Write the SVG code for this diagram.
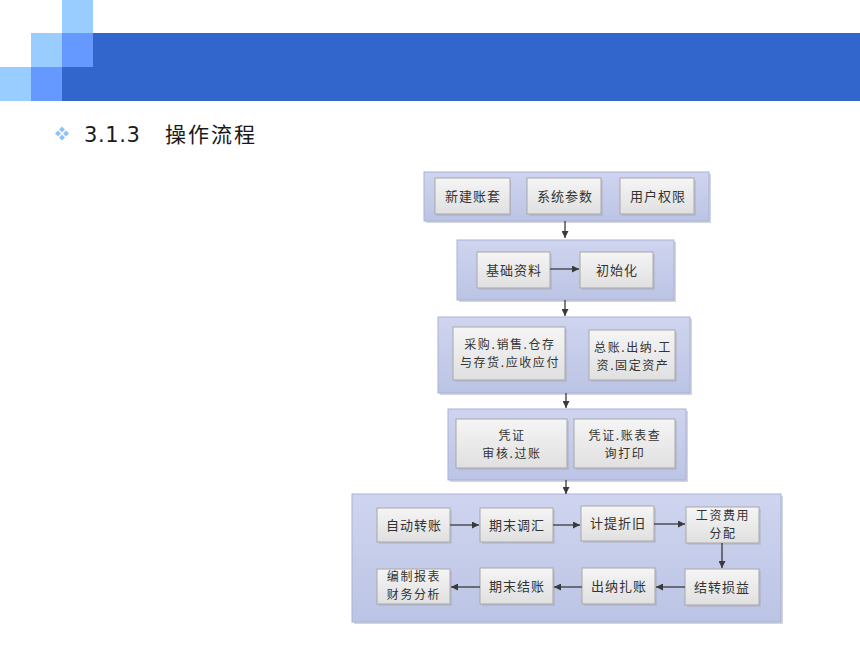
<svg xmlns="http://www.w3.org/2000/svg" width="860" height="645" viewBox="0 0 860 645">
<defs>
<linearGradient id="gOuter" x1="0" y1="0" x2="0" y2="1">
<stop offset="0" stop-color="#cfd5ef"/>
<stop offset="1" stop-color="#bcc4e5"/>
</linearGradient>
<linearGradient id="gInner" x1="0" y1="0" x2="0" y2="1">
<stop offset="0" stop-color="#f5f5f5"/>
<stop offset="1" stop-color="#e0e0e0"/>
</linearGradient>
<marker id="arr" viewBox="0 0 10 10" refX="10" refY="5" markerWidth="8" markerHeight="7" markerUnits="userSpaceOnUse" orient="auto">
<path d="M0,0 L10,5 L0,10 z" fill="#3a3a3a"/>
</marker>
<style>
.outer{fill:url(#gOuter);stroke:#a9b1d8;stroke-width:1}
.oshadow{fill:#9fa3b5;opacity:0.45}
.inner{fill:url(#gInner);stroke:#a8a8a8;stroke-width:1}
.ishadow{fill:#9a9aa8;opacity:0.3}
.t{font-family:"Noto Sans CJK SC","Noto Sans",sans-serif;font-size:13px;fill:#333;letter-spacing:1px;text-anchor:middle}
.t2{font-family:"Noto Sans CJK SC","Noto Sans",sans-serif;font-size:12px;fill:#333;letter-spacing:1.6px;text-anchor:middle}
.conn line{stroke:#3a3a3a;stroke-width:1.3;marker-end:url(#arr)}
</style>
</defs>
<rect width="860" height="645" fill="#ffffff"/>
<g id="header">
<rect x="62" y="0" width="31" height="33" fill="#99ccff"/>
<rect x="31" y="33" width="31" height="34" fill="#99ccff"/>
<rect x="62" y="33" width="31" height="34" fill="#6699ff"/>
<rect x="93" y="33" width="767" height="34" fill="#3366cc"/>
<rect x="0" y="67" width="31" height="34" fill="#99ccff"/>
<rect x="31" y="67" width="31" height="34" fill="#6699ff"/>
<rect x="62" y="67" width="798" height="34" fill="#3366cc"/>
</g>
<g id="title">
<g fill="#8fc3f5">
<path d="M62,126.5 L65,129.5 L62,132.5 L59,129.5 z"/>
<path d="M58,130.5 L61,133.5 L58,136.5 L55,133.5 z"/>
<path d="M66,130.5 L69,133.5 L66,136.5 L63,133.5 z"/>
<path d="M62,134.5 L65,137.5 L62,140.5 L59,137.5 z"/>
</g>
<text x="84" y="142" font-family="'DejaVu Sans',Verdana,sans-serif" font-size="21" fill="#1a1a1a" letter-spacing="0.6">3.1.3</text>
<text x="165" y="142" font-family="'Noto Sans CJK SC',sans-serif" font-size="21" fill="#1a1a1a" letter-spacing="2">操作流程</text>
</g>

<g id="group1">
<rect class="oshadow" x="426" y="174" width="285" height="49"/>
<rect class="outer" x="424" y="172" width="285" height="49"/>
</g>
<g id="n_xinjian">
<rect class="ishadow" x="436" y="180" width="75" height="36"/>
<rect class="inner" x="435" y="178" width="75" height="36"/>
<text class="t" x="473" y="201">新建账套</text>
</g>
<g id="n_xitong">
<rect class="ishadow" x="529" y="180" width="74" height="36"/>
<rect class="inner" x="527" y="178" width="74" height="36"/>
<text class="t" x="565" y="201">系统参数</text>
</g>
<g id="n_yonghu">
<rect class="ishadow" x="622" y="180" width="74" height="36"/>
<rect class="inner" x="620" y="178" width="74" height="36"/>
<text class="t" x="658" y="201">用户权限</text>
</g>

<g id="group2">
<rect class="oshadow" x="459" y="242" width="217" height="60"/>
<rect class="outer" x="457" y="240" width="217" height="60"/>
</g>
<g id="n_jichu">
<rect class="ishadow" x="479" y="254" width="73" height="36"/>
<rect class="inner" x="477" y="252" width="73" height="36"/>
<text class="t" x="514" y="275">基础资料</text>
</g>
<g id="n_chushi">
<rect class="ishadow" x="582" y="254" width="73" height="36"/>
<rect class="inner" x="580" y="252" width="73" height="36"/>
<text class="t" x="617" y="275">初始化</text>
</g>

<g id="group3">
<rect class="oshadow" x="440" y="319" width="252" height="76"/>
<rect class="outer" x="438" y="317" width="252" height="76"/>
</g>
<g id="n_caigou">
<rect class="ishadow" x="455" y="329" width="112" height="53"/>
<rect class="inner" x="453" y="327" width="112" height="53"/>
<text class="t2" x="510" y="349">采购.销售.仓存</text>
<text class="t2" x="510" y="367">与存货.应收应付</text>
</g>
<g id="n_zongzhang">
<rect class="ishadow" x="591" y="332" width="86" height="50"/>
<rect class="inner" x="589" y="330" width="86" height="50"/>
<text class="t2" x="633" y="352">总账.出纳.工</text>
<text class="t2" x="633" y="370">资.固定资产</text>
</g>

<g id="group4">
<rect class="oshadow" x="450" y="411" width="238" height="71"/>
<rect class="outer" x="448" y="409" width="238" height="71"/>
</g>
<g id="n_pingzheng">
<rect class="ishadow" x="458" y="421" width="111" height="49"/>
<rect class="inner" x="456" y="419" width="111" height="49"/>
<text class="t2" x="512" y="440">凭证</text>
<text class="t2" x="512" y="458">审核.过账</text>
</g>
<g id="n_chaxun">
<rect class="ishadow" x="576" y="421" width="101" height="49"/>
<rect class="inner" x="574" y="419" width="101" height="49"/>
<text class="t2" x="625" y="440">凭证.账表查</text>
<text class="t2" x="625" y="458">询打印</text>
</g>

<g id="group5">
<rect class="oshadow" x="354" y="496" width="429" height="128"/>
<rect class="outer" x="352" y="494" width="429" height="128"/>
</g>
<g id="n_zidong">
<rect class="ishadow" x="379" y="510" width="73" height="34"/>
<rect class="inner" x="377" y="508" width="73" height="34"/>
<text class="t" x="414" y="530">自动转账</text>
</g>
<g id="n_tiaohui">
<rect class="ishadow" x="482" y="510" width="73" height="34"/>
<rect class="inner" x="480" y="508" width="73" height="34"/>
<text class="t" x="517" y="530">期末调汇</text>
</g>
<g id="n_zhejiu">
<rect class="ishadow" x="583" y="508" width="73" height="35"/>
<rect class="inner" x="581" y="506" width="73" height="35"/>
<text class="t" x="618" y="528">计提折旧</text>
</g>
<g id="n_gongzi">
<rect class="ishadow" x="688" y="509" width="73" height="36"/>
<rect class="inner" x="686" y="507" width="73" height="36"/>
<text class="t2" x="723" y="520">工资费用</text>
<text class="t2" x="723" y="538">分配</text>
</g>
<g id="n_sunyi">
<rect class="ishadow" x="687" y="571" width="74" height="36"/>
<rect class="inner" x="685" y="569" width="74" height="36"/>
<text class="t" x="722" y="592">结转损益</text>
</g>
<g id="n_zhazhang">
<rect class="ishadow" x="584" y="570" width="73" height="36"/>
<rect class="inner" x="582" y="568" width="73" height="36"/>
<text class="t" x="619" y="591">出纳扎账</text>
</g>
<g id="n_jiezhang">
<rect class="ishadow" x="482" y="570" width="73" height="36"/>
<rect class="inner" x="480" y="568" width="73" height="36"/>
<text class="t" x="517" y="591">期末结账</text>
</g>
<g id="n_baobiao">
<rect class="ishadow" x="379" y="571" width="73" height="35"/>
<rect class="inner" x="377" y="569" width="73" height="35"/>
<text class="t2" x="414" y="581">编制报表</text>
<text class="t2" x="414" y="599">财务分析</text>
</g>

<g id="connectors" class="conn">
<line x1="565" y1="221" x2="565" y2="238"/>
<line x1="550" y1="269" x2="579" y2="269"/>
<line x1="565" y1="300" x2="565" y2="316"/>
<line x1="566" y1="393" x2="566" y2="408"/>
<line x1="566" y1="480" x2="566" y2="494"/>
<line x1="450" y1="525" x2="479" y2="525"/>
<line x1="553" y1="525" x2="580" y2="525"/>
<line x1="654" y1="524" x2="685" y2="524"/>
<line x1="722" y1="543" x2="722" y2="568"/>
<line x1="685" y1="587" x2="656" y2="587"/>
<line x1="582" y1="587" x2="554" y2="587"/>
<line x1="480" y1="587" x2="451" y2="587"/>
</g>
</svg>
